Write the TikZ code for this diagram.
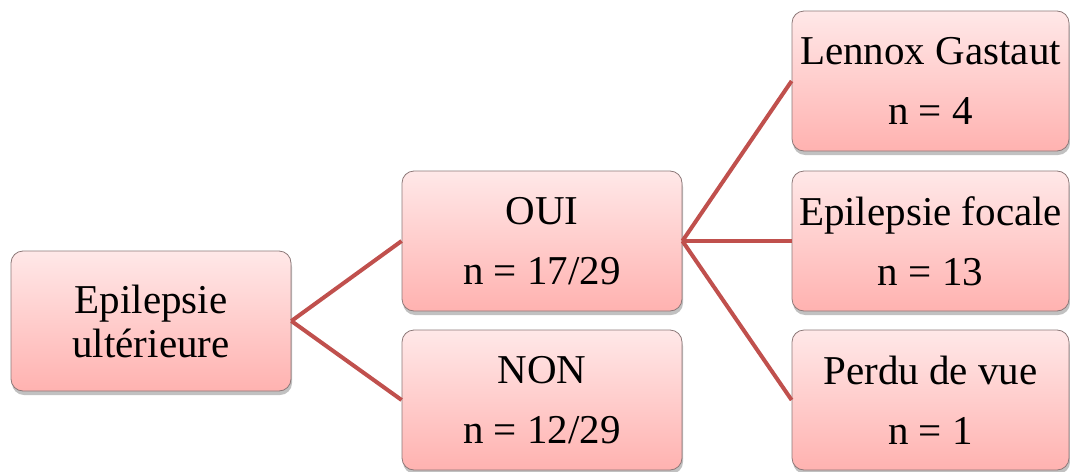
\documentclass[tikz,border=0pt]{standalone}
\usepackage{fontspec}
\setmainfont{Liberation Serif}
\usetikzlibrary{shadows}
\definecolor{boxtop}{RGB}{255,232,232}
\definecolor{boxbot}{RGB}{255,178,176}
\definecolor{boxline}{RGB}{140,120,120}
\definecolor{link}{RGB}{192,80,77}
\tikzset{
  databox/.style={rectangle, rounded corners=12pt, draw=boxline, line width=0.8pt,
    top color=boxtop, bottom color=boxbot,
    minimum width=280pt, minimum height=140pt, inner sep=0pt, align=center,
    font=\fontsize{41}{44}\selectfont,
    drop shadow={shadow xshift=1pt, shadow yshift=-4pt, opacity=0.35, fill=black!70}},
  narrowbox/.style={databox, minimum width=277pt},
  linkline/.style={draw=link, line width=4pt}
}
\begin{document}
\begin{tikzpicture}[x=1pt,y=-1pt]
\useasboundingbox (0,0) rectangle (1070,471);
\node[databox] (a) at (151,321) {Epilepsie\\ultérieure};
\node[databox] (oui) at (542,241) {OUI\\[16pt]n = 17/29};
\node[databox] (non) at (542,400) {NON\\[16pt]n = 12/29};
\node[narrowbox] (lg) at (930.5,81) {Lennox Gastaut\\[16pt]n = 4};
\node[narrowbox] (ef) at (930.5,241) {Epilepsie focale\\[16pt]n = 13};
\node[narrowbox] (pv) at (930.5,400) {Perdu de vue\\[16pt]n = 1};
\draw[linkline] (a.east) -- (oui.west);
\draw[linkline] (a.east) -- (non.west);
\draw[linkline] (oui.east) -- (lg.west);
\draw[linkline] (oui.east) -- (ef.west);
\draw[linkline] (oui.east) -- (pv.west);
\end{tikzpicture}
\end{document}
